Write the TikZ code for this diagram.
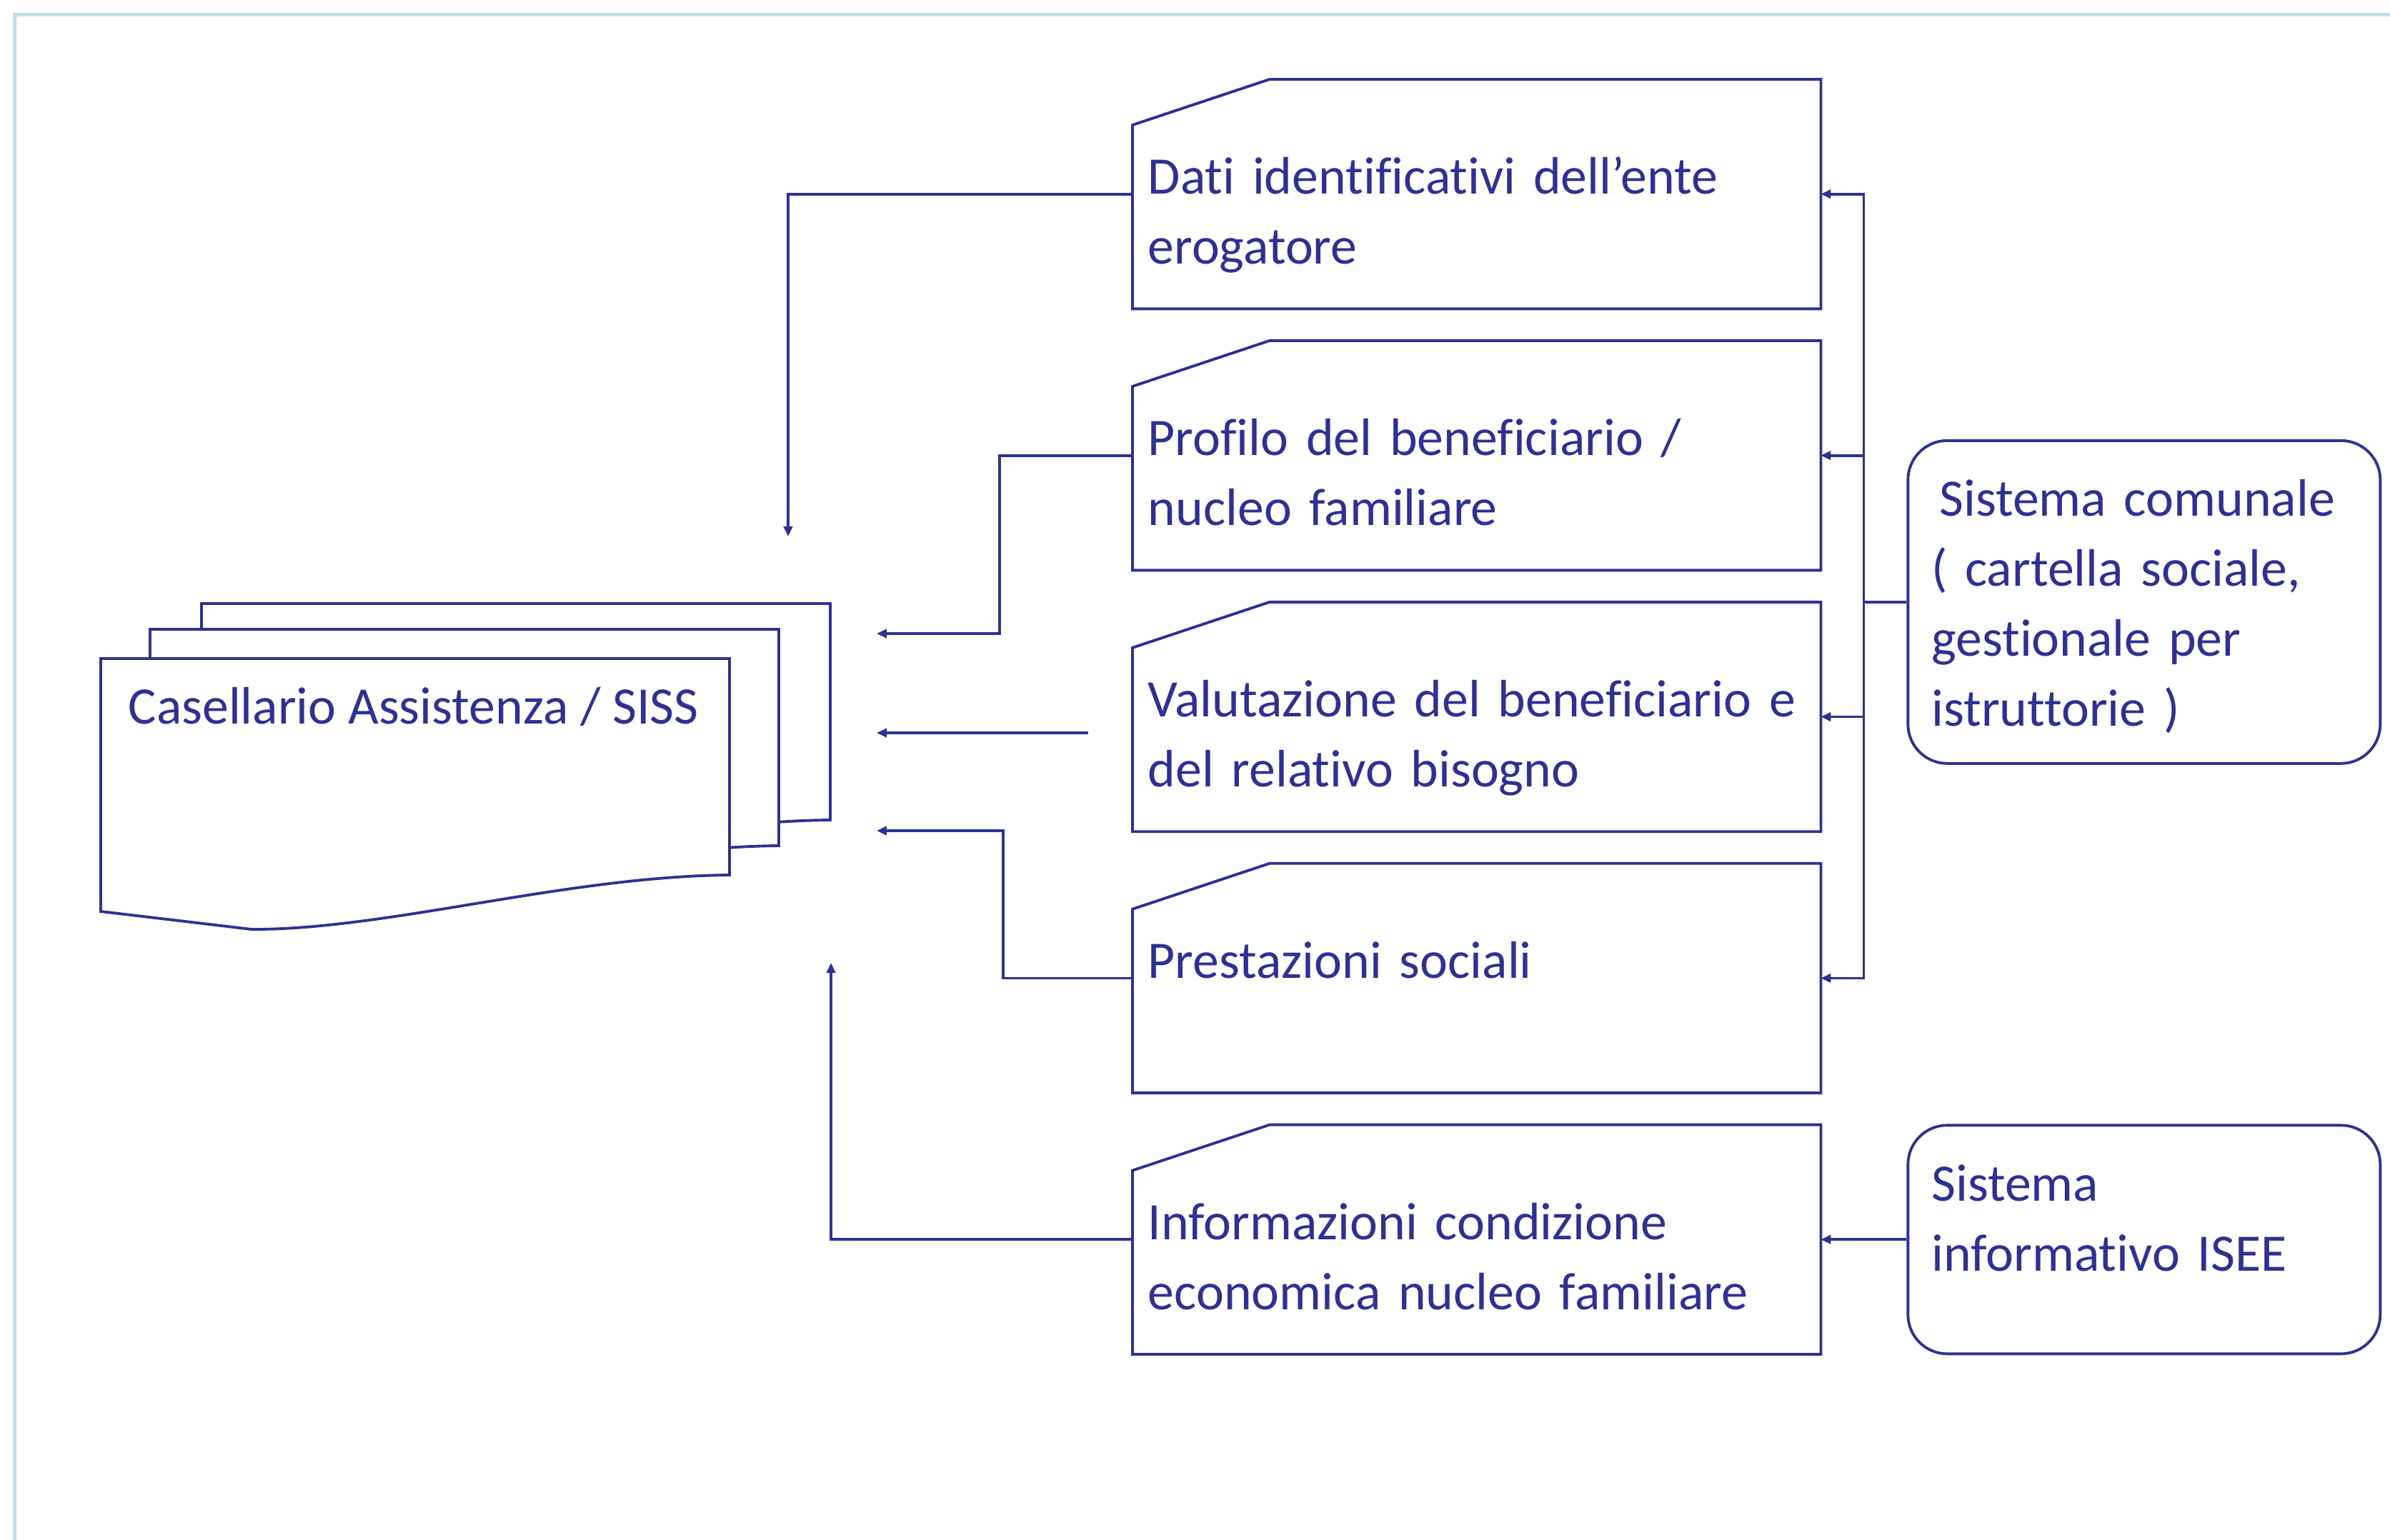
\documentclass[tikz,border=0pt]{standalone}
\usepackage{fontspec}
\setmainfont{Carlito}[Ligatures=NoCommon]
\usetikzlibrary{arrows.meta,positioning}
\definecolor{sisblue}{HTML}{2E3192}
\definecolor{framecyan}{HTML}{BCE0E4}
\hyphenpenalty=10000

\begin{document}
\begin{tikzpicture}[
    node distance=0.445cm,
    line/.style={draw=sisblue, line width=1.1pt},
    flow/.style={line, -{Triangle[length=4pt, width=3.5pt]}},
    txt/.style={text=sisblue, font=\fontsize{21pt}{27.9pt}\selectfont},
    card/.style={txt, minimum width=9.62cm, minimum height=3.2cm, inner sep=0pt,
      text width=9.2cm, align=left, text height=1.6cm, text depth=1.6cm},
    system/.style={txt, line, rounded corners=0.55cm, minimum width=6.61cm, inner sep=0pt,
      text width=5.95cm, align=left, text height=1.06cm}
  ]
    \useasboundingbox (0,0) rectangle (33.45,-21.56);
    \draw[framecyan, line width=1.4pt] (0.205,-21.56) -- (0.205,-0.205) -- (33.45,-0.205);

    % stacked documents
    \foreach \sx/\sy in {2.82/-8.45, 2.10/-8.81, 1.41/-9.22}
      \draw[line, fill=white, shift={(\sx,\sy)}] (0,0) -- (8.8,0) -- (8.8,-3.03)
        .. controls (6.5,-3.05) and (4.0,-3.8) .. (2.11,-3.79) -- (0,-3.54) -- cycle;
    \node[txt, anchor=base west, inner sep=0pt] (siss) at (1.79,-10.13) {Casellario Assistenza / SISS};

    % data cards
    \node[card, anchor=north west] (c1) at (15.85,-1.11) {Dati identificativi dell’ente\\erogatore};
    \node[card, below=of c1] (c2) {Profilo del beneficiario /\\nucleo familiare};
    \node[card, below=of c2] (c3) {Valutazione del beneficiario e\\del relativo bisogno};
    \node[card, below=of c3] (c4) {Prestazioni sociali};
    \node[card, below=of c4] (c5) {Informazioni condizione\\economica nucleo familiare};
    \foreach \i in {1,...,5}
      \draw[line] (c\i.north west) ++(0,-0.64) -- ++(1.92,0.64) -| (c\i.south east)
        -- (c\i.south west) -- cycle;

    % source systems
    \node[system, text depth=3.46cm, right=1.2cm of c3.north east] (comunale)
      {\hspace*{0.11cm}Sistema comunale\\( cartella sociale,\\gestionale per\\istruttorie )};
    \node[system, text depth=2.14cm, right=1.2cm of c5] (isee) {Sistema\\informativo ISEE};

    % flows into the casellario
    \coordinate (in1) at (11.03,-7.51);
    \coordinate (in2) at (12.27,-8.87);
    \coordinate (in3) at (12.27,-10.26);
    \coordinate (in4) at (12.27,-11.63);
    \coordinate (in5) at (11.63,-13.48);
    \coordinate (gap3) at ([xshift=-0.62cm]c3.west |- in3);
    \draw[flow] (c1.west) -| (in1);
    \draw[flow] (c2.west) -- ++(-1.86,0) |- (in2);
    \draw[flow] (gap3) -- (in3);
    \draw[flow] (c4.west) -- ++(-1.81,0) |- (in4);
    \draw[flow] (c5.west) -| (in5);

    % flows from the source systems
    \coordinate (bus) at ([xshift=-0.6cm]comunale.west);
    \draw[line] (comunale.west) -- (bus);
    \foreach \i in {1,...,4}
      \draw[flow] (bus) |- (c\i.east);
    \draw[flow] (isee.west) -- (c5.east);
  \end{tikzpicture}
\end{document}
